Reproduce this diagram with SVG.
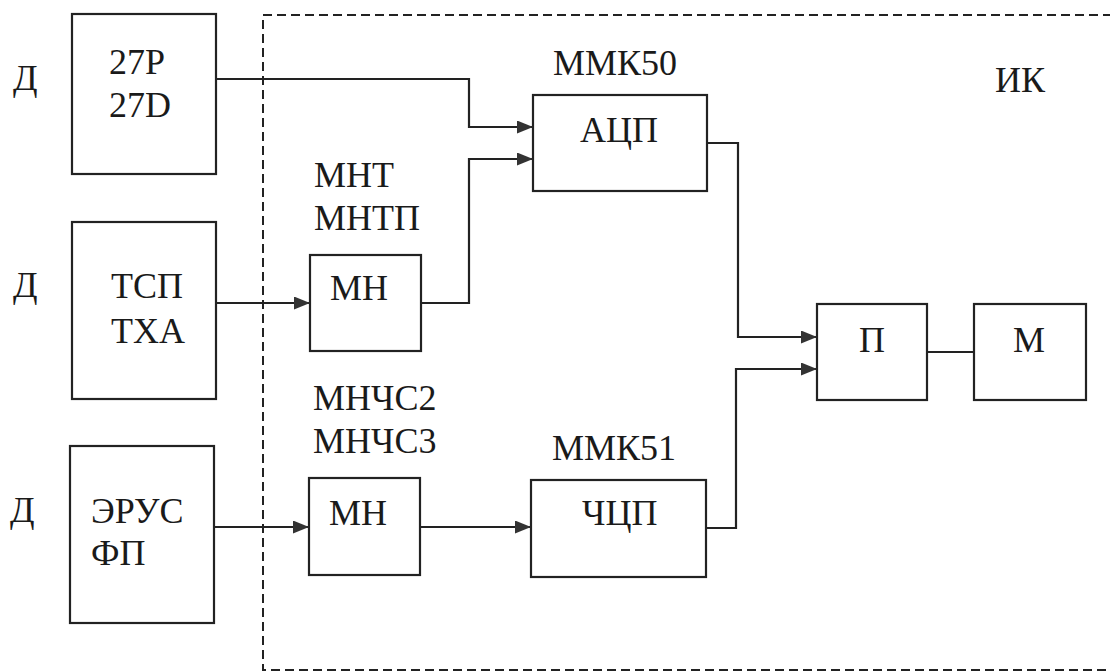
<svg xmlns="http://www.w3.org/2000/svg" width="1110" height="671" viewBox="0 0 1110 671" font-family="Liberation Serif, Times New Roman, serif" font-size="36">
<defs>
<marker id="a" viewBox="0 0 16 13" refX="16" refY="6.5" markerWidth="16" markerHeight="13" markerUnits="userSpaceOnUse" orient="auto">
<path d="M0,0L16,6.5L0,13Z" fill="#333"/>
</marker>
</defs>
<rect width="1110" height="671" fill="#fff"/>
<path d="M1112,15H263V670H1112" fill="none" stroke="#222" stroke-width="2" stroke-dasharray="9 5"/>
<g id="labels" fill="#1a1a1a">
<text x="13" y="90">Д</text>
<text x="13" y="297">Д</text>
<text x="10" y="522">Д</text>
<text x="995" y="92">ИК</text>
<text x="553" y="75">ММК50</text>
<text x="314" y="187">МНТ</text>
<text x="314" y="230">МНТП</text>
<text x="313" y="410">МНЧС2</text>
<text x="313" y="453">МНЧС3</text>
<text x="552" y="460">ММК51</text>
</g>
<g id="n27">
<rect x="72" y="14" width="144" height="160" fill="none" stroke="#222" stroke-width="2.2"/>
<text x="109" y="74" fill="#1a1a1a">27P</text>
<text x="109" y="117" fill="#1a1a1a">27D</text>
</g>
<g id="ntsp">
<rect x="72" y="222" width="144" height="177" fill="none" stroke="#222" stroke-width="2.2"/>
<text x="111" y="298" fill="#1a1a1a">ТСП</text>
<text x="111" y="343" fill="#1a1a1a">ТХА</text>
</g>
<g id="nerus">
<rect x="70" y="446" width="144" height="177" fill="none" stroke="#222" stroke-width="2.2"/>
<text x="91" y="523" fill="#1a1a1a">ЭРУС</text>
<text x="91" y="565" fill="#1a1a1a">ФП</text>
</g>
<g id="nmn1">
<rect x="310" y="255" width="111" height="96" fill="none" stroke="#222" stroke-width="2.2"/>
<text x="330" y="300" fill="#1a1a1a">МН</text>
</g>
<g id="nmn2">
<rect x="309" y="478" width="111" height="97" fill="none" stroke="#222" stroke-width="2.2"/>
<text x="329" y="525" fill="#1a1a1a">МН</text>
</g>
<g id="nadc">
<rect x="533" y="95" width="174" height="96" fill="none" stroke="#222" stroke-width="2.2"/>
<text x="580" y="142" fill="#1a1a1a">АЦП</text>
</g>
<g id="nfdc">
<rect x="531" y="480" width="175" height="97" fill="none" stroke="#222" stroke-width="2.2"/>
<text x="582" y="525" fill="#1a1a1a">ЧЦП</text>
</g>
<g id="np">
<rect x="817" y="304" width="110" height="96" fill="none" stroke="#222" stroke-width="2.2"/>
<text x="859" y="352" fill="#1a1a1a">П</text>
</g>
<g id="nm">
<rect x="974" y="304" width="112" height="96" fill="none" stroke="#222" stroke-width="2.2"/>
<text x="1013" y="352" fill="#1a1a1a">М</text>
</g>
<g id="connectors" fill="none" stroke="#222" stroke-width="2.2">
<path d="M216,79H469V127H533" marker-end="url(#a)"/>
<path d="M421,303H469V159H533" marker-end="url(#a)"/>
<path d="M216,303H310" marker-end="url(#a)"/>
<path d="M214,527H309" marker-end="url(#a)"/>
<path d="M420,527H531" marker-end="url(#a)"/>
<path d="M707,143H738V337H817" marker-end="url(#a)"/>
<path d="M706,528H736V369H817" marker-end="url(#a)"/>
<path d="M927,352H974"/>
</g>
</svg>
